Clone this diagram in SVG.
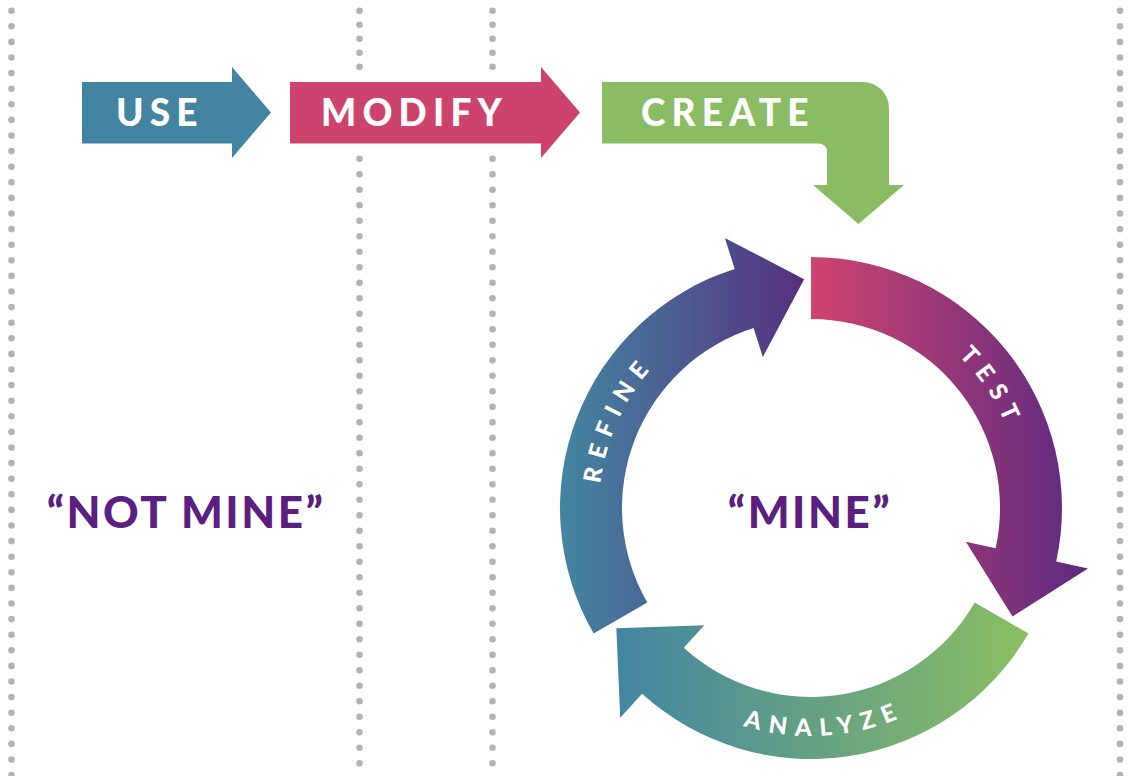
<svg xmlns="http://www.w3.org/2000/svg" width="1131" height="776" viewBox="0 0 1131 776">
  <style>
    .dots { fill: none; stroke: #b3b3b3; stroke-width: 6.6; stroke-linecap: round; }
    .stage { font-family: Lato, "Open Sans", "Liberation Sans", sans-serif; font-weight: 900; font-size: 37px; letter-spacing: 6.2px; fill: #ffffff; }
    .ring { font-family: Lato, "Open Sans", "Liberation Sans", sans-serif; font-weight: 900; font-size: 24px; letter-spacing: 8.5px; fill: #ffffff; }
    .own { font-family: Lato, "Open Sans", "Liberation Sans", sans-serif; font-weight: 900; font-size: 44px; letter-spacing: 2.5px; fill: #5b1f80; }
  </style>
  <defs>
    <linearGradient id="gTest" gradientUnits="userSpaceOnUse" x1="811" y1="0" x2="1088" y2="0">
      <stop offset="0" stop-color="#cf4470"/>
      <stop offset="1" stop-color="#5b2a80"/>
    </linearGradient>
    <linearGradient id="gRefine" gradientUnits="userSpaceOnUse" x1="560" y1="0" x2="804" y2="0">
      <stop offset="0" stop-color="#4386a1"/>
      <stop offset="1" stop-color="#55307f"/>
    </linearGradient>
    <linearGradient id="gAnalyze" gradientUnits="userSpaceOnUse" x1="616" y1="0" x2="1028" y2="0">
      <stop offset="0" stop-color="#4285a2"/>
      <stop offset="1" stop-color="#8bbf62"/>
    </linearGradient>
    <path id="pTest" d="M904.77,317.86 A212,212 0 0 1 1022.55,494.13"/>
    <path id="pRefine" d="M599.92,527.77 A212,212 0 0 1 688.37,335.07"/>
    <path id="pAnalyze" d="M709.62,712.22 A228,228 0 0 0 937.17,697.91"/>
  </defs>

  <g id="guides">
    <line class="dots" x1="11.5" y1="10.7" x2="11.5" y2="776" stroke-dasharray="0 15.6"/>
    <line class="dots" x1="359.5" y1="10.7" x2="359.5" y2="67" stroke-dasharray="0 14"/>
    <line class="dots" x1="359.5" y1="158.7" x2="359.5" y2="776" stroke-dasharray="0 15.5"/>
    <line class="dots" x1="492.5" y1="10.7" x2="492.5" y2="67" stroke-dasharray="0 14"/>
    <line class="dots" x1="492.5" y1="158.7" x2="492.5" y2="776" stroke-dasharray="0 15.5"/>
    <line class="dots" x1="1120" y1="10.7" x2="1120" y2="776" stroke-dasharray="0 15.6"/>
  </g>

  <g id="stage-use">
    <path d="M82,82 H232 V67 L271,112.5 L232,158 V143.5 H82 Z" fill="#4384a1"/>
    <text class="stage" x="116" y="126">USE</text>
  </g>
  <g id="stage-modify">
    <path d="M290,82 H541 V67 L580,112.5 L541,158 V143.5 H290 Z" fill="#ce436d"/>
    <text class="stage" x="321" y="126">MODIFY</text>
  </g>
  <g id="stage-create">
    <path d="M602,82 H863 A26,26 0 0 1 889,108 V185 H904 L858.5,224 L813,185 H827 V152 A8,8 0 0 0 819,143.5 H602 Z" fill="#8abd63"/>
    <text class="stage" x="641" y="126">CREATE</text>
  </g>

  <g id="connectors">
    <g id="cycle-test">
      <path d="M811,257 A251,251 0 0 1 1056.24,561.47 L1088,568.4 L1012.53,616.42 L965.86,541.77 L995.66,548.26 A189,189 0 0 0 811,319 Z" fill="url(#gTest)"/>
      <text class="ring"><textPath href="#pTest" startOffset="50%" text-anchor="middle">TEST</textPath></text>
    </g>
    <g id="cycle-analyze">
      <path d="M1028.37,633.5 A251,251 0 0 1 642.07,693.65 L620.2,717.69 L616.34,628.32 L704.33,625.23 L683.8,647.79 A189,189 0 0 0 974.68,602.5 Z" fill="url(#gAnalyze)"/>
      <text class="ring"><textPath href="#pAnalyze" startOffset="50%" text-anchor="middle">ANALYZE</textPath></text>
    </g>
    <g id="cycle-refine">
      <path d="M593.63,633.5 A251,251 0 0 1 734.69,268.88 L724.81,237.92 L804.13,279.26 L762.81,357 L753.54,327.95 A189,189 0 0 0 647.32,602.5 Z" fill="url(#gRefine)"/>
      <text class="ring"><textPath href="#pRefine" startOffset="50%" text-anchor="middle">REFINE</textPath></text>
    </g>
  </g>

  <g id="label-not-mine">
    <text class="own" x="186" y="528" text-anchor="middle">“NOT MINE”</text>
  </g>
  <g id="label-mine">
    <text class="own" x="810" y="528" text-anchor="middle">“MINE”</text>
  </g>
</svg>
